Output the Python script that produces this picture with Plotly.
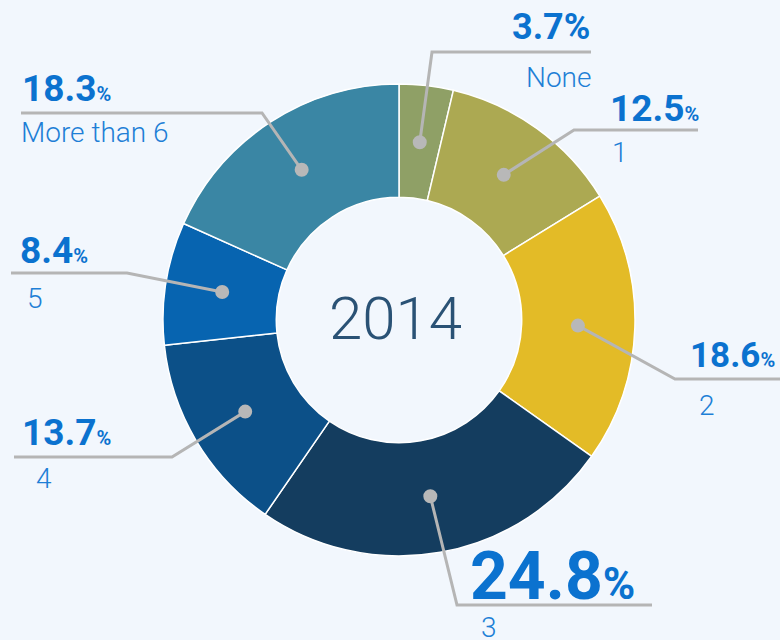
import math
import plotly.graph_objects as go

# Share of households by number of members, 2014
categories = ["None", "1", "2", "3", "4", "5", "More than 6"]
shares = [3.7, 12.5, 18.6, 24.8, 13.7, 8.4, 18.3]
colors = ["#8fa066", "#aca952", "#e3bb27", "#143d5f", "#0c5088", "#0764b0", "#3a86a4"]
center_title = "2014"

W, H = 780, 640
BG = "#f2f7fd"
PCT_COLOR = "#0b72cf"
LBL_COLOR = "#1e7fd6"
LINE_COLOR = "#b5b5b5"

# donut geometry in pixels
CX, CY, R_OUT = 399, 320, 236
HOLE = 0.52
R_IN = R_OUT * HOLE


def px(x, y):
    return x / W, 1 - y / H


# leader layout per category: elbow, line end, percent pos/size/anchor, label pos/anchor
layout_spec = {
    "None":        dict(elbow=(432, 52),  end=(591, 52),  pct=(592, 27, "right"), pct_size=36, pct_sym=36,
                        lbl=(593, 77, "right")),
    "1":           dict(elbow=(574, 130), end=(698, 130), pct=(608, 109, "left"), pct_size=37, pct_sym=20,
                        lbl=(610, 153, "left")),
    "2":           dict(elbow=(675, 379), end=(780, 379), pct=(688, 355, "left"), pct_size=35, pct_sym=20,
                        lbl=(697, 405, "left")),
    "3":           dict(elbow=(457, 605), end=(652, 605), pct=(468, 576, "left"), pct_size=66, pct_sym=44,
                        lbl=(479, 627, "left")),
    "4":           dict(elbow=(172, 457), end=(14, 457),  pct=(20, 432, "left"),  pct_size=37, pct_sym=20,
                        lbl=(34, 478, "left")),
    "5":           dict(elbow=(127, 273), end=(11, 273),  pct=(18, 250, "left"),  pct_size=37, pct_sym=20,
                        lbl=(25, 298, "left")),
    "More than 6": dict(elbow=(262, 113), end=(21, 113),  pct=(20, 89, "left"),   pct_size=37, pct_sym=20,
                        lbl=(19, 133, "left")),
}

fig = go.Figure()
fig.add_trace(go.Pie(
    labels=categories,
    values=shares,
    hole=HOLE,
    sort=False,
    direction="clockwise",
    rotation=0,
    marker=dict(colors=colors, line=dict(color="white", width=1.5)),
    textinfo="none",
    hoverinfo="label+percent",
    showlegend=False,
    domain=dict(x=[(CX - R_OUT) / W, (CX + R_OUT) / W],
                y=[1 - (CY + R_OUT) / H, 1 - (CY - R_OUT) / H]),
))

shapes = []
annotations = []
total = sum(shares)
cum = 0.0
r_dot = 179
for cat, val in zip(categories, shares):
    mid = (cum + val / 2) / total * 2 * math.pi
    cum += val
    dx = CX + r_dot * math.sin(mid)
    dy = CY - r_dot * math.cos(mid)
    spec = layout_spec[cat]
    pts = [(dx, dy), spec["elbow"], spec["end"]]
    path = "M " + " L ".join(f"{px(x, y)[0]:.5f},{px(x, y)[1]:.5f}" for x, y in pts)
    shapes.append(dict(type="path", xref="paper", yref="paper", path=path,
                       line=dict(color=LINE_COLOR, width=3)))
    rd = 7
    shapes.append(dict(type="circle", xref="paper", yref="paper",
                       x0=(dx - rd) / W, x1=(dx + rd) / W,
                       y0=1 - (dy + rd) / H, y1=1 - (dy - rd) / H,
                       fillcolor="#b8b8b8", line=dict(width=0)))

    x, y, anc = spec["pct"]
    num = f"{val:.1f}"
    txt = f"{num}<span style='font-size:{spec['pct_sym']}px'>%</span>"
    annotations.append(dict(text=txt, x=x / W, y=1 - y / H, xref="paper", yref="paper",
                            xanchor=anc, yanchor="middle", showarrow=False,
                            font=dict(family="Roboto", size=spec["pct_size"], color=PCT_COLOR, weight=700)))
    x, y, anc = spec["lbl"]
    annotations.append(dict(text=cat, x=x / W, y=1 - y / H, xref="paper", yref="paper",
                            xanchor=anc, yanchor="middle", showarrow=False,
                            font=dict(family="Roboto", size=28, color=LBL_COLOR, weight=300)))

annotations.append(dict(text=center_title, x=CX / W - 0.004, y=1 - 318 / H, xref="paper", yref="paper",
                        xanchor="center", yanchor="middle", showarrow=False,
                        font=dict(family="Roboto", size=60, color="#2a5275", weight=300)))

fig.update_layout(
    width=W, height=H,
    margin=dict(l=0, r=0, t=0, b=0),
    paper_bgcolor=BG, plot_bgcolor=BG,
    shapes=shapes, annotations=annotations,
)

fig.write_html("out.html")
